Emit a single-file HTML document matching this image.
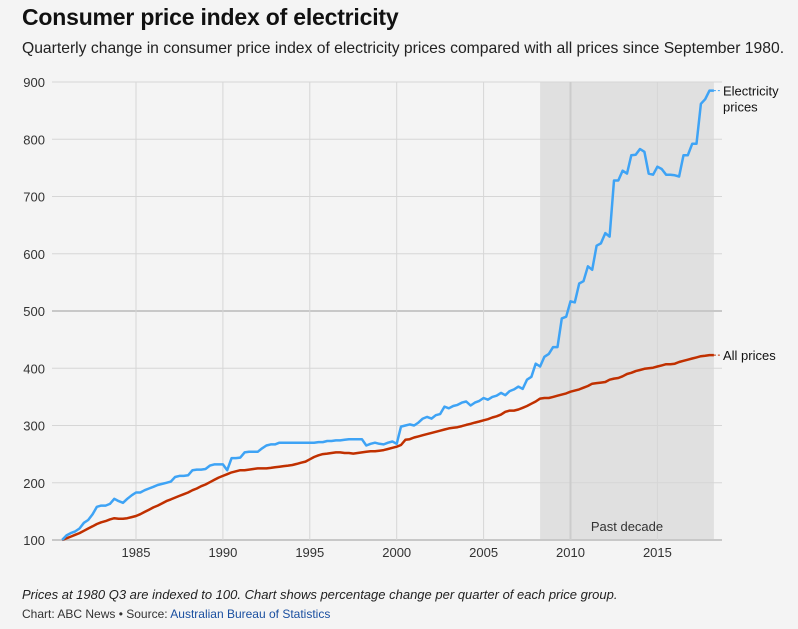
<!DOCTYPE html>
<html><head><meta charset="utf-8"><style>
body{margin:0;background:#f4f4f4;font-family:"Liberation Sans",sans-serif;width:798px;height:629px;overflow:hidden;position:relative}
.t{position:absolute;white-space:nowrap}
</style></head><body>
<div class="t" style="left:22px;top:4px;font-size:23px;font-weight:bold;color:#111;letter-spacing:-0.2px">Consumer price index of electricity</div>
<div class="t" style="left:22px;top:40px;font-size:15.7px;color:#222">Quarterly change in consumer price index of electricity prices compared with all prices since September 1980.</div>
<svg id="c" width="798" height="629" style="position:absolute;left:0;top:0"></svg>
<div class="t" style="left:22px;top:587px;font-size:13px;font-style:italic;color:#222">Prices at 1980 Q3 are indexed to 100. Chart shows percentage change per quarter of each price group.</div>
<div class="t" style="left:22px;top:607px;font-size:12px;color:#333">Chart: ABC News • Source: <span style="color:#1a4fa0">Australian Bureau of Statistics</span></div>
<script>
const yTicks=[100,200,300,400,500,600,700,800,900];
const xTicks=[1985,1990,1995,2000,2005,2010,2015];
const startYear=1980.75;
const electricity=[100,108,112,115,120,130,135,145,158,160,160,163,172,168,165,172,178,183,183,187,190,193,196,198,200,202,210,212,212,213,222,223,223,224,230,232,232,232,222,243,243,244,253,254,254,254,260,265,267,267,270,270,270,270,270,270,270,270,270,271,271,273,273,274,274,275,276,276,276,276,265,268,270,268,267,270,272,268,298,300,302,300,305,312,315,312,318,320,333,330,334,336,340,342,335,340,343,348,345,350,352,357,353,360,363,368,364,380,385,408,403,420,425,437,437,487,490,517,515,548,552,578,572,614,618,636,630,728,728,745,740,772,773,783,778,740,738,752,748,738,738,737,735,772,772,792,792,862,870,885,885];
const allPrices=[100,103,106,109,112,116,120,124,128,131,133,136,138,137,137,138,140,142,145,149,153,157,160,164,168,171,174,177,180,183,187,190,194,197,201,205,209,212,215,218,220,222,222,223,224,225,225,225,226,227,228,229,230,231,233,235,237,241,245,248,250,251,252,253,253,252,252,251,252,253,254,255,255,256,257,259,261,263,266,275,276,279,281,283,285,287,289,291,293,295,296,297,299,301,303,305,307,309,311,314,316,319,324,326,326,328,331,334,338,342,347,348,348,350,352,354,356,359,361,363,366,369,373,374,375,376,380,382,383,386,390,392,395,397,399,400,401,403,405,407,407,408,411,413,415,417,419,421,422,423,423];
const shade=[2008.25,2018.25];
const X=t=>136+(t-1985)*17.38;
const Y=v=>540-(v-100)*0.5725;
const L=52,R=722;
const s=document.getElementById('c');const NS='http://www.w3.org/2000/svg';
function mk(tag,a,txt){const e=document.createElementNS(NS,tag);for(const k in a)e.setAttribute(k,a[k]);if(txt!=null)e.textContent=txt;s.appendChild(e);return e;}
let e;
e=mk('rect',{x:X(shade[0]),y:Y(900),width:X(shade[1])-X(shade[0]),height:Y(100)-Y(900),fill:'#e0e0e0'});


yTicks.forEach(v=>{
 const strong=(v===100||v===500);
 e=mk('line',{x1:L,x2:R,y1:Y(v),y2:Y(v),stroke:strong?'#c8c8c8':'#d6d6d6','stroke-width':strong?2:1});
 
 
 e=mk('text',{x:45,y:Y(v)+5,'font-size':13,fill:'#333','text-anchor':'end'},v);
 
 
});
xTicks.forEach(t=>{
 e=mk('line',{x1:X(t),x2:X(t),y1:Y(900),y2:Y(100),stroke:t===2010?'#cccccc':'#d6d6d6','stroke-width':t===2010?2:1});
 
 
 e=mk('text',{x:X(t),y:557,'font-size':13,fill:'#333','text-anchor':'middle'},t);
 
 
});
e=mk('text',{x:(X(shade[0])+X(shade[1]))/2,y:531,'font-size':13,fill:'#333','text-anchor':'middle'},'Past decade');


function pts(a){return a.map((v,i)=>X(startYear+i*0.25).toFixed(1)+','+Y(v).toFixed(1)).join(' ');}
e=mk('polyline',{points:pts(allPrices),fill:'none',stroke:'#c03000','stroke-width':2.5,'stroke-linejoin':'round'});


e=mk('polyline',{points:pts(electricity),fill:'none',stroke:'#3ea3f5','stroke-width':2.5,'stroke-linejoin':'round'});


const ex=X(startYear+(electricity.length-1)*0.25),ey=Y(electricity[electricity.length-1]);
e=mk('line',{x1:ex,x2:ex+6,y1:ey,y2:ey,stroke:'#3ea3f5','stroke-dasharray':'2,2'});


e=mk('text',{x:723,y:ey+5,'font-size':13,fill:'#111'},'Electricity');


e=mk('text',{x:723,y:ey+21,'font-size':13,fill:'#111'},'prices');


const ay=Y(allPrices[allPrices.length-1]);
e=mk('line',{x1:ex,x2:ex+6,y1:ay,y2:ay,stroke:'#c03000','stroke-dasharray':'2,2'});


e=mk('text',{x:723,y:ay+5,'font-size':13,fill:'#111'},'All prices');


</script>
</body></html>
